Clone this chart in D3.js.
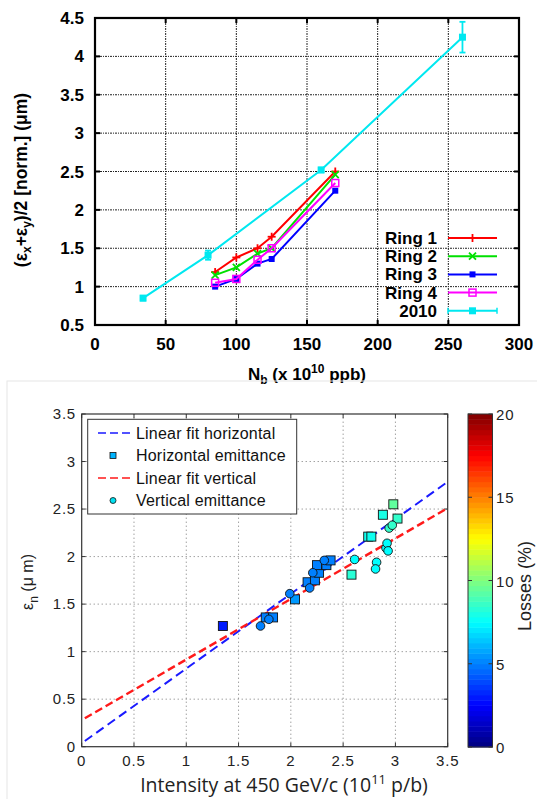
<!DOCTYPE html>
<html><head><meta charset="utf-8">
<script src="https://cdn.jsdelivr.net/npm/d3@7"></script>
<style>body{margin:0;background:#fff}svg{display:block}</style>
</head><body>
<script>
// ---------- Top chart data ----------
const ringN = [85, 100, 115, 125, 170];
const ring1 = [1.19, 1.38, 1.50, 1.65, 2.50];
const ring2 = [1.15, 1.25, 1.43, 1.50, 2.46];
const ring3 = [1.00, 1.10, 1.30, 1.36, 2.25];
const ring4 = [1.05, 1.10, 1.35, 1.50, 2.35];
const n2010 = [34, 80, 160, 260];
const e2010 = [0.85, 1.41, 2.52, 4.25];
const err2010 = [0.03, 0.06, 0.03, 0.20];
const topXTicks = [0, 50, 100, 150, 200, 250, 300];
const topYTicks = [0.5, 1, 1.5, 2, 2.5, 3, 3.5, 4, 4.5];
const topSeriesNames = ["Ring 1", "Ring 2", "Ring 3", "Ring 4", "2010"];

// ---------- Bottom chart data ----------
const hInt  = [1.35, 1.76, 1.83, 2.04, 2.16, 2.23, 2.27, 2.25, 2.34, 2.38, 2.58, 2.74, 2.77, 2.88, 2.98, 3.02];
const hEmit = [1.27, 1.36, 1.36, 1.55, 1.73, 1.75, 1.83, 1.91, 1.91, 1.96, 1.81, 2.21, 2.21, 2.44, 2.55, 2.40];
const hLoss = [3.0, 5.0, 5.0, 5.5, 5.0, 5.0, 5.0, 5.0, 5.0, 5.0, 8.3, 7.8, 7.8, 8.0, 9.4, 8.5];
const vInt  = [1.71, 1.79, 1.99, 2.18, 2.21, 2.32, 2.61, 2.82, 2.81, 2.91, 2.92, 2.93, 2.94, 2.97];
const vEmit = [1.27, 1.34, 1.61, 1.67, 1.83, 1.96, 1.97, 1.94, 1.87, 2.09, 2.14, 2.06, 2.30, 2.33];
const vLoss = [5.0, 5.0, 5.0, 5.0, 5.0, 5.0, 7.5, 7.5, 7.5, 7.5, 7.5, 7.5, 8.5, 8.5];
const fitRange = [0.03, 3.5];
const hFitCoef = [0.036, 0.786];
const vFitCoef = [0.28, 0.637];
const botXTicks = [0, 0.5, 1, 1.5, 2, 2.5, 3, 3.5];
const botYTicks = [0, 0.5, 1, 1.5, 2, 2.5, 3, 3.5];
const lossTicks = [0, 5, 10, 15, 20];
const botLegend = ["Linear fit horizontal", "Horizontal emittance", "Linear fit vertical", "Vertical emittance"];

const svg = d3.select("body").append("svg").attr("width", 537).attr("height", 799);
svg.append("rect").attr("width", 537).attr("height", 799).attr("fill", "#fff");

// =================== TOP CHART ===================
const xT = d3.scaleLinear().domain([0, 300]).range([95, 519]);
const yT = d3.scaleLinear().domain([0.5, 4.5]).range([325, 18]);
const topG = svg.append("g").attr("font-family", "Liberation Sans, Arial, sans-serif");

// grid
topG.append("g").selectAll("line").data(topXTicks.slice(1, -1)).join("line")
  .attr("x1", d => xT(d)).attr("x2", d => xT(d)).attr("y1", yT(0.5)).attr("y2", yT(4.5))
  .attr("stroke", "#222").attr("stroke-width", 1).attr("stroke-dasharray", "2,1,1,1");
topG.append("g").selectAll("line").data(topYTicks.slice(1, -1)).join("line")
  .attr("y1", d => yT(d)).attr("y2", d => yT(d)).attr("x1", xT(0)).attr("x2", xT(300))
  .attr("stroke", "#222").attr("stroke-width", 1).attr("stroke-dasharray", "2,1,1,1");
// inner ticks
const tt = topG.append("g").attr("stroke", "#000").attr("stroke-width", 2);
topXTicks.slice(1, -1).forEach(d => {
  tt.append("line").attr("x1", xT(d)).attr("x2", xT(d)).attr("y1", yT(0.5)).attr("y2", yT(0.5) - 5);
  tt.append("line").attr("x1", xT(d)).attr("x2", xT(d)).attr("y1", yT(4.5)).attr("y2", yT(4.5) + 5);
});
topYTicks.slice(1, -1).forEach(d => {
  tt.append("line").attr("y1", yT(d)).attr("y2", yT(d)).attr("x1", xT(0)).attr("x2", xT(0) + 5);
  tt.append("line").attr("y1", yT(d)).attr("y2", yT(d)).attr("x1", xT(300)).attr("x2", xT(300) - 5);
});
// frame
topG.append("rect").attr("x", xT(0)).attr("y", yT(4.5)).attr("width", xT(300) - xT(0)).attr("height", yT(0.5) - yT(4.5))
  .attr("fill", "none").attr("stroke", "#000").attr("stroke-width", 2.2);

// tick labels
topG.append("g").selectAll("text").data(topXTicks).join("text")
  .attr("x", d => xT(d)).attr("y", 350).attr("text-anchor", "middle")
  .attr("font-size", 17).attr("font-weight", "bold").text(d => d);
topG.append("g").selectAll("text").data(topYTicks).join("text")
  .attr("x", 84).attr("y", d => yT(d) + 6).attr("text-anchor", "end")
  .attr("font-size", 17).attr("font-weight", "bold").text(d => d);

// axis titles
const xtT = topG.append("text").attr("x", 307).attr("y", 380).attr("text-anchor", "middle")
  .attr("font-size", 17).attr("font-weight", "bold");
xtT.append("tspan").text("N");
xtT.append("tspan").attr("font-size", 12).attr("dy", 4).text("b");
xtT.append("tspan").attr("dy", -4).text(" (x 10");
xtT.append("tspan").attr("font-size", 12).attr("dy", -7).text("10");
xtT.append("tspan").attr("dy", 7).text(" ppb)");

const ytT = topG.append("text").attr("transform", "translate(27,180) rotate(-90)").attr("text-anchor", "middle")
  .attr("font-size", 17.5).attr("font-weight", "bold");
ytT.append("tspan").text("(ε");
ytT.append("tspan").attr("font-size", 12).attr("dy", 4).text("x");
ytT.append("tspan").attr("dy", -4).text("+ε");
ytT.append("tspan").attr("font-size", 12).attr("dy", 4).text("y");
ytT.append("tspan").attr("dy", -4).text(")/2 [norm.] (μm)");

// series
const line = d3.line().x(d => xT(d[0])).y(d => yT(d[1]));
const ringColors = ["#ff0000", "#00e000", "#0000ff", "#ff00ff"];
const ringData = [ring1, ring2, ring3, ring4];
const cyan = "#00e8f0";

function marker(g, type, x, y, color) {
  if (type === 0) {
    g.append("line").attr("x1", x - 4).attr("x2", x + 4).attr("y1", y).attr("y2", y).attr("stroke", color).attr("stroke-width", 1.8);
    g.append("line").attr("x1", x).attr("x2", x).attr("y1", y - 4).attr("y2", y + 4).attr("stroke", color).attr("stroke-width", 1.8);
  } else if (type === 1) {
    g.append("line").attr("x1", x - 3.5).attr("x2", x + 3.5).attr("y1", y - 3.5).attr("y2", y + 3.5).attr("stroke", color).attr("stroke-width", 1.8);
    g.append("line").attr("x1", x - 3.5).attr("x2", x + 3.5).attr("y1", y + 3.5).attr("y2", y - 3.5).attr("stroke", color).attr("stroke-width", 1.8);
  } else if (type === 2) {
    g.append("rect").attr("x", x - 3).attr("y", y - 3).attr("width", 6).attr("height", 6).attr("fill", color);
  } else if (type === 3) {
    g.append("rect").attr("x", x - 3.5).attr("y", y - 3.5).attr("width", 7).attr("height", 7).attr("fill", "none").attr("stroke", color).attr("stroke-width", 1.5);
  } else {
    g.append("rect").attr("x", x - 3.5).attr("y", y - 3.5).attr("width", 7).attr("height", 7).attr("fill", color);
  }
}

const ser = topG.append("g");
// 2010
const d2010 = n2010.map((n, i) => [n, e2010[i]]);
ser.append("path").attr("d", line(d2010)).attr("fill", "none").attr("stroke", cyan).attr("stroke-width", 2);
d2010.forEach((d, i) => {
  const x = xT(d[0]);
  ser.append("line").attr("x1", x).attr("x2", x).attr("y1", yT(d[1] - err2010[i])).attr("y2", yT(d[1] + err2010[i])).attr("stroke", cyan).attr("stroke-width", 1.8);
  [d[1] - err2010[i], d[1] + err2010[i]].forEach(v => ser.append("line").attr("x1", x - 3).attr("x2", x + 3).attr("y1", yT(v)).attr("y2", yT(v)).attr("stroke", cyan).attr("stroke-width", 1.8));
  marker(ser, 4, x, yT(d[1]), cyan);
});
ringData.forEach((arr, k) => {
  const pts = ringN.map((n, i) => [n, arr[i]]);
  ser.append("path").attr("d", line(pts)).attr("fill", "none").attr("stroke", ringColors[k]).attr("stroke-width", 2);
  pts.forEach(d => marker(ser, k, xT(d[0]), yT(d[1]), ringColors[k]));
});

// legend
const lg = topG.append("g");
topSeriesNames.forEach((name, i) => {
  const y = 238 + i * 18.2;
  const c = i < 4 ? ringColors[i] : cyan;
  lg.append("text").attr("x", 437).attr("y", y + 6).attr("text-anchor", "end").attr("font-size", 17).attr("font-weight", "bold").text(name);
  lg.append("line").attr("x1", 448).attr("x2", 497).attr("y1", y).attr("y2", y).attr("stroke", c).attr("stroke-width", 2);
  if (i === 4) {
    [448, 497].forEach(x => lg.append("line").attr("x1", x).attr("x2", x).attr("y1", y - 3).attr("y2", y + 3).attr("stroke", c).attr("stroke-width", 1.5));
  }
  marker(lg, i, 472.5, y, c);
});

// =================== BOTTOM CHART ===================
svg.append("rect").attr("x", 7).attr("y", 381).attr("width", 540).attr("height", 430)
  .attr("fill", "none").attr("stroke", "#e6e6e6").attr("stroke-width", 1);

const xB = d3.scaleLinear().domain([0, 3.5]).range([81.7, 447.7]);
const yB = d3.scaleLinear().domain([0, 3.5]).range([746.7, 414]);
const cB = d3.scaleLinear().domain([0, 20]).range([747, 414]);
const jet = t => {
  const cl = v => Math.max(0, Math.min(1, v));
  return d3.rgb(255 * cl(1.5 - Math.abs(4 * t - 3)), 255 * cl(1.5 - Math.abs(4 * t - 2)), 255 * cl(1.5 - Math.abs(4 * t - 1)));
};
const lossColor = v => jet(v / 20);
const bot = svg.append("g").attr("font-family", "Liberation Sans, Arial, sans-serif");

// grid
bot.append("g").selectAll("line").data(botXTicks.slice(1, -1)).join("line")
  .attr("x1", d => xB(d)).attr("x2", d => xB(d)).attr("y1", yB(0)).attr("y2", yB(3.5))
  .attr("stroke", "#777").attr("stroke-width", 1).attr("stroke-dasharray", "1,3");
bot.append("g").selectAll("line").data(botYTicks.slice(1, -1)).join("line")
  .attr("y1", d => yB(d)).attr("y2", d => yB(d)).attr("x1", xB(0)).attr("x2", xB(3.5))
  .attr("stroke", "#777").attr("stroke-width", 1).attr("stroke-dasharray", "1,3");
const bt = bot.append("g").attr("stroke", "#333").attr("stroke-width", 1);
botXTicks.forEach(d => {
  bt.append("line").attr("x1", xB(d)).attr("x2", xB(d)).attr("y1", yB(0)).attr("y2", yB(0) - 4);
  bt.append("line").attr("x1", xB(d)).attr("x2", xB(d)).attr("y1", yB(3.5)).attr("y2", yB(3.5) + 4);
});
botYTicks.forEach(d => {
  bt.append("line").attr("y1", yB(d)).attr("y2", yB(d)).attr("x1", xB(0)).attr("x2", xB(0) + 4);
  bt.append("line").attr("y1", yB(d)).attr("y2", yB(d)).attr("x1", xB(3.5)).attr("x2", xB(3.5) - 4);
});
bot.append("rect").attr("x", xB(0)).attr("y", yB(3.5)).attr("width", xB(3.5) - xB(0)).attr("height", yB(0) - yB(3.5))
  .attr("fill", "none").attr("stroke", "#333").attr("stroke-width", 1.2);

bot.append("g").selectAll("text").data(botXTicks).join("text")
  .attr("x", d => xB(d)).attr("y", 766).attr("text-anchor", "middle")
  .attr("font-size", 15).attr("letter-spacing", 0.8).attr("fill", "#222").text(d => d);
bot.append("g").selectAll("text").data(botYTicks).join("text")
  .attr("x", 76).attr("y", d => yB(d) + 5).attr("text-anchor", "end")
  .attr("font-size", 15).attr("letter-spacing", 0.8).attr("fill", "#222").text(d => d);

// titles
const xtB = bot.append("text").attr("x", 284).attr("y", 792).attr("text-anchor", "middle")
  .attr("font-family", "Open Sans, Noto Sans, sans-serif").attr("font-size", 19.5).attr("fill", "#222");
xtB.append("tspan").text("Intensity at 450 GeV/c (10");
xtB.append("tspan").attr("font-size", 13).attr("dy", -8).text("11");
xtB.append("tspan").attr("dy", 8).text(" p/b)");

const ytB = bot.append("text").attr("transform", "translate(33,582) rotate(-90)").attr("text-anchor", "middle")
  .attr("font-size", 16).attr("fill", "#222");
ytB.append("tspan").text("ε");
ytB.append("tspan").attr("font-size", 12).attr("dy", 5).text("n");
ytB.append("tspan").attr("dy", -5).text("  (μ m)");

// fits
const fitLine = coef => fitRange.map(x => [x, coef[0] + coef[1] * x]);
const lB = d3.line().x(d => xB(d[0])).y(d => yB(d[1]));
bot.append("path").attr("d", lB(fitLine(hFitCoef))).attr("fill", "none").attr("stroke", "#1a1aff").attr("stroke-width", 2).attr("stroke-dasharray", "9,5");
bot.append("path").attr("d", lB(fitLine(vFitCoef))).attr("fill", "none").attr("stroke", "#ff1a1a").attr("stroke-width", 2.4).attr("stroke-dasharray", "8,4");

// points
const ptsG = bot.append("g");
hInt.forEach((x, i) => {
  ptsG.append("rect").attr("x", xB(x) - 4.5).attr("y", yB(hEmit[i]) - 4.5).attr("width", 9).attr("height", 9)
    .attr("fill", lossColor(hLoss[i])).attr("stroke", "#111").attr("stroke-width", 0.9);
});
vInt.forEach((x, i) => {
  ptsG.append("circle").attr("cx", xB(x)).attr("cy", yB(vEmit[i])).attr("r", 4.3)
    .attr("fill", lossColor(vLoss[i])).attr("stroke", "#111").attr("stroke-width", 0.9);
});

// legend
const lgB = bot.append("g");
lgB.append("rect").attr("x", 87.7).attr("y", 419.3).attr("width", 209).attr("height", 94.7)
  .attr("fill", "#fff").attr("stroke", "#333").attr("stroke-width", 1);
botLegend.forEach((name, i) => {
  const y = 433 + i * 22.5;
  if (i === 0 || i === 2) {
    lgB.append("line").attr("x1", 98).attr("x2", 133).attr("y1", y).attr("y2", y)
      .attr("stroke", i === 0 ? "#1a1aff" : "#ff1a1a").attr("stroke-width", 1.6).attr("stroke-dasharray", "8,4");
  } else if (i === 1) {
    lgB.append("rect").attr("x", 113 - 3).attr("y", y - 3).attr("width", 6).attr("height", 6)
      .attr("fill", "#00b4ff").attr("stroke", "#111").attr("stroke-width", 0.8);
  } else {
    lgB.append("circle").attr("cx", 113).attr("cy", y).attr("r", 3)
      .attr("fill", "#00e0f0").attr("stroke", "#111").attr("stroke-width", 0.8);
  }
  lgB.append("text").attr("x", 136).attr("y", y + 5.5).attr("font-size", 16).attr("letter-spacing", 0.2).attr("fill", "#111").text(name);
});

// colorbar
const cbX = 468, cbW = 24.5;
const nSteps = 64;
const cbG = bot.append("g");
d3.range(nSteps).forEach(k => {
  const v0 = 20 * k / nSteps, v1 = 20 * (k + 1) / nSteps;
  cbG.append("rect").attr("x", cbX).attr("y", cB(v1)).attr("width", cbW).attr("height", cB(v0) - cB(v1) + 0.5)
    .attr("fill", jet((k + 0.5) / nSteps));
});
cbG.append("rect").attr("x", cbX).attr("y", cB(20)).attr("width", cbW).attr("height", cB(0) - cB(20))
  .attr("fill", "none").attr("stroke", "#333").attr("stroke-width", 1);
lossTicks.forEach(v => {
  cbG.append("line").attr("x1", cbX + cbW).attr("x2", cbX + cbW - 4).attr("y1", cB(v)).attr("y2", cB(v)).attr("stroke", "#333");
  cbG.append("line").attr("x1", cbX).attr("x2", cbX + 4).attr("y1", cB(v)).attr("y2", cB(v)).attr("stroke", "#333");
});
cbG.append("g").selectAll("text").data(lossTicks).join("text")
  .attr("x", 496).attr("y", d => cB(d) + 6).attr("font-size", 15).attr("letter-spacing", 0.8).attr("fill", "#222").text(d => d);
cbG.append("text").attr("transform", "translate(531,586) rotate(-90)").attr("text-anchor", "middle")
  .attr("font-size", 18).attr("fill", "#222").text("Losses (%)");
</script>
</body></html>
